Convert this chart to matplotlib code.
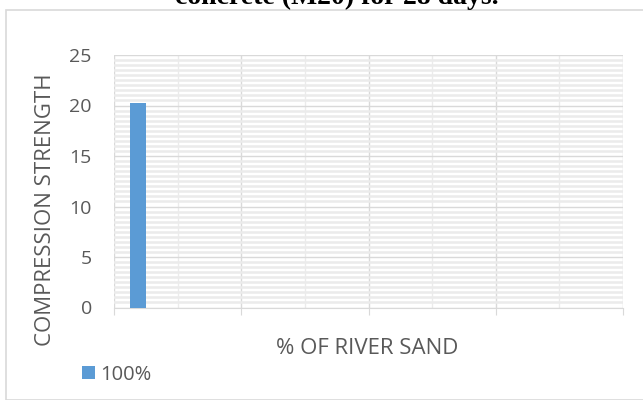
import numpy as np
import matplotlib.pyplot as plt
from matplotlib.patches import Rectangle

# categories on the x axis (Excel left them blank)
categories = ["", "", "", ""]
n_series = 6
gap_width = 2.0
series_names = ["100%"]
series_values = [[20.2, np.nan, np.nan, np.nan]]
series_colors = ["#5b9bd5"]

title_text = "concrete (M20) for 28 days."
y_label = "COMPRESSION STRENGTH"
x_label = "% OF RIVER SAND"
y_ticks = [0, 5, 10, 15, 20, 25]

plt.rcParams['font.family'] = ['Open Sans', 'DejaVu Sans']
text_grey = "#595959"

fig = plt.figure(figsize=(6.43, 4.0), dpi=100)

# outer chart frame
fig.patches.append(Rectangle((6 / 643, 0), 1, 1 - 10 / 400, transform=fig.transFigure,
                             fill=False, edgecolor="#d9d9d9", linewidth=1.2))

# title is cut off at the top of the picture, as in the scan
fig.text(337 / 643, 1 - 4 / 400, title_text, ha='center', va='baseline',
         fontsize=20, fontweight='bold', family='Liberation Serif', color='black')

ax = fig.add_axes([114 / 643, 1 - 307.5 / 400, 509 / 643, 252.5 / 400])

x = np.arange(len(categories))
bar_w = 1.0 / (n_series + gap_width)
for i, (name, vals, col) in enumerate(zip(series_names, series_values, series_colors)):
    offset = -0.5 + gap_width / 2 * bar_w + (i + 0.5) * bar_w
    ax.bar(x + offset, vals, width=bar_w, color=col, label=name, zorder=3)

ax.set_xlim(-0.5, len(categories) - 0.5)
ax.set_ylim(0, 25)
ax.set_yticks(y_ticks)
ax.set_yticks(np.arange(0, 25.01, 0.5), minor=True)
ax.set_xticks(np.arange(len(categories) + 1) - 0.5)
ax.set_xticklabels([])
ax.set_xticks(x, minor=True)

ax.grid(axis='y', which='minor', color="#ebebeb", linewidth=1.8, zorder=0)
ax.grid(axis='x', which='minor', color="#ebebeb", linewidth=1.0, zorder=0)
ax.grid(which='major', color="#d9d9d9", linewidth=1.0, zorder=1)

for side in ['top', 'right', 'left']:
    ax.spines[side].set_visible(False)
ax.spines['bottom'].set_color("#d9d9d9")
ax.tick_params(axis='y', which='both', length=0, labelsize=14, labelcolor=text_grey, pad=16)
ax.tick_params(axis='x', which='major', length=5, color="#d9d9d9", direction='out')
ax.tick_params(axis='x', which='minor', length=0)

fig.text(46 / 643, 1 - 210 / 400, y_label, rotation=90, ha='center', va='center',
         fontsize=16, color=text_grey)
fig.text(367 / 643, 1 - 349 / 400, x_label, ha='center', va='center',
         fontsize=16, color=text_grey)

ax.legend(loc='center left', bbox_to_anchor=(72 / 643, 1 - 375 / 400),
          bbox_transform=fig.transFigure, frameon=False, fontsize=14.5,
          labelcolor=text_grey, handlelength=0.62, handleheight=0.62,
          handletextpad=0.3, borderpad=0)

fig.savefig("out.png", dpi=100)
